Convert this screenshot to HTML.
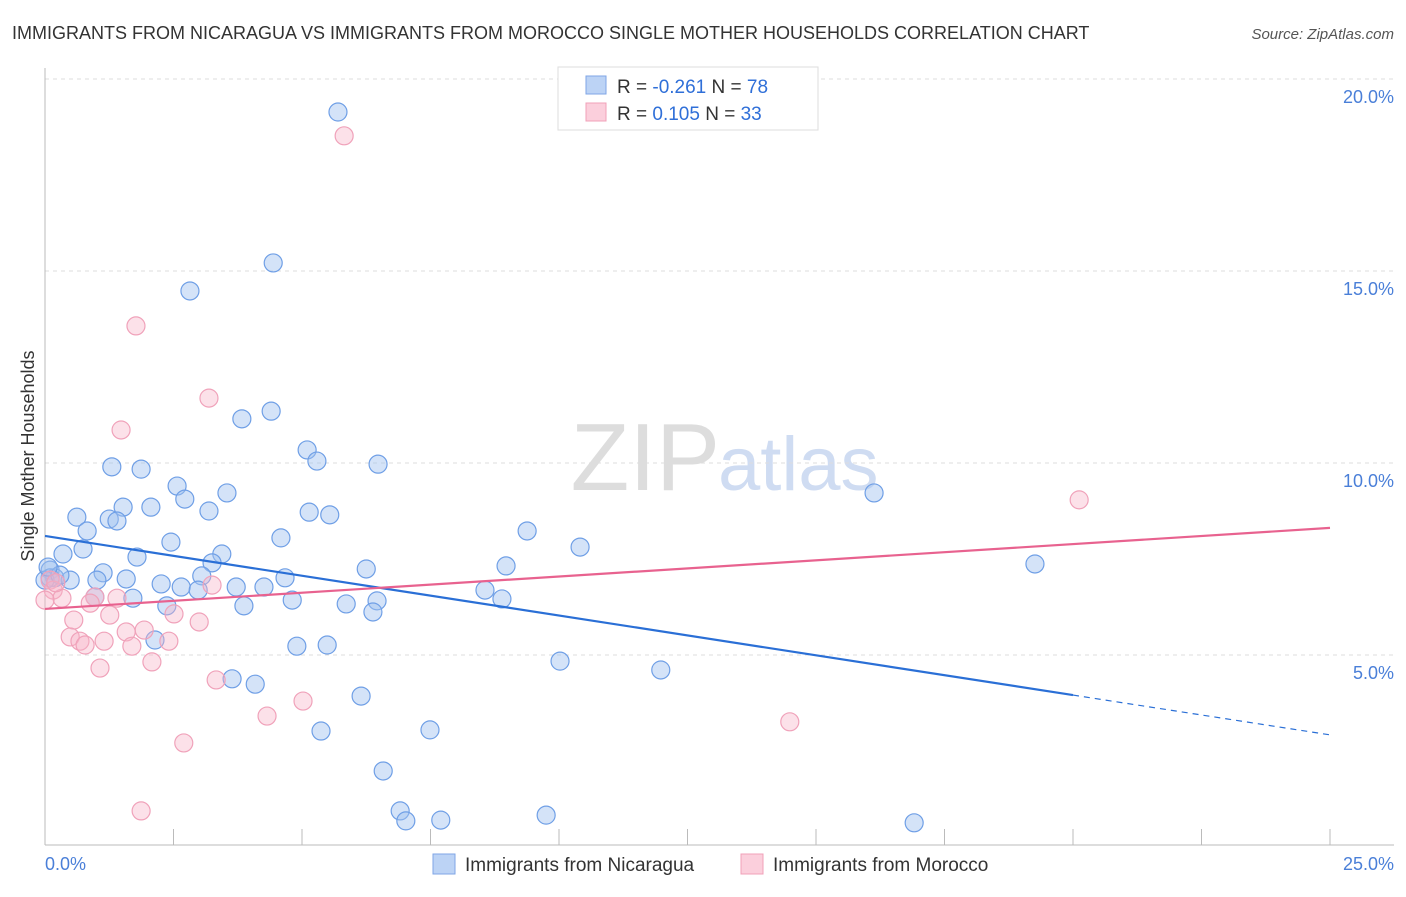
<!DOCTYPE html>
<html><head><meta charset="utf-8"><style>
body{margin:0;background:#fff;font-family:"Liberation Sans",sans-serif}
svg text{font-family:"Liberation Sans",sans-serif}
</style></head><body>
<svg id="c" width="1406" height="892">
<text x="12" y="39" font-size="18" fill="#333">IMMIGRANTS FROM NICARAGUA VS IMMIGRANTS FROM MOROCCO SINGLE MOTHER HOUSEHOLDS CORRELATION CHART</text>
<text x="1394" y="39" font-size="15" fill="#555" text-anchor="end" font-style="italic">Source: ZipAtlas.com</text>
<text x="720" y="490" font-size="96" fill="#ddd" text-anchor="end" font-family="Liberation Serif">ZIP</text>
<text x="718" y="490" font-size="76" fill="#cfdcf2">atlas</text>
<g id="grid"></g>
<g id="pts"></g>
<g id="trend"></g>
<text transform="translate(34,456) rotate(-90)" font-size="18" fill="#333" text-anchor="middle">Single Mother Households</text>
<text x="45" y="870" font-size="18" fill="#4a7fd8">0.0%</text>
<text x="1394" y="870" font-size="18" fill="#4a7fd8" text-anchor="end">25.0%</text>
<g>
<rect x="558" y="67" width="260" height="63" fill="#fff" stroke="#ddd"/>
<rect x="586" y="76" width="20" height="18" fill="#bcd3f5" stroke="#7fa6e6"/>
<rect x="586" y="103" width="20" height="18" fill="#fbcfdc" stroke="#f0a0b8"/>
<text x="617" y="93" font-size="19" fill="#333">R = <tspan fill="#2f6fd8">-0.261</tspan>   N = <tspan fill="#2f6fd8">78</tspan></text>
<text x="617" y="120" font-size="19" fill="#333">R =  <tspan fill="#2f6fd8"> 0.105</tspan>   N = <tspan fill="#2f6fd8">33</tspan></text>
</g>
<g>
<rect x="433" y="854" width="22" height="20" fill="#bcd3f5" stroke="#7fa6e6"/>
<text x="465" y="871" font-size="19" fill="#333">Immigrants from Nicaragua</text>
<rect x="741" y="854" width="22" height="20" fill="#fbcfdc" stroke="#f0a0b8"/>
<text x="773" y="871" font-size="19" fill="#333">Immigrants from Morocco</text>
</g>
</svg>
<script>
const yTicks=[5,10,15,20];
const xTicks=[0,2.5,5,7.5,10,12.5,15,17.5,20,22.5,25];
const blueX=[5.70,4.44,2.82,3.83,4.40,5.10,5.29,6.48,1.30,1.87,2.57,2.72,3.54,2.06,1.52,0.62,1.25,1.40,3.19,5.14,5.54,0.82,4.59,9.38,10.41,2.45,0.74,0.35,1.79,3.44,3.25,8.97,6.25,19.26,16.13,0.10,0.19,0.49,1.13,1.58,1.01,3.05,2.26,2.65,2.98,3.72,4.26,4.67,8.56,1.71,0.97,2.37,3.87,4.81,5.86,6.46,6.38,8.89,2.14,4.90,5.49,10.02,11.98,3.64,4.09,6.15,5.37,7.49,6.58,6.91,7.02,7.70,9.75,16.91,0.10,0.0,0.29,0.06];
const blueY=[19.14,15.21,14.48,11.15,11.35,10.34,10.05,9.97,9.90,9.84,9.40,9.06,9.22,8.85,8.85,8.59,8.54,8.49,8.75,8.72,8.65,8.23,8.05,8.23,7.81,7.94,7.76,7.63,7.55,7.63,7.40,7.32,7.24,7.37,9.22,7.21,7.01,6.95,7.14,6.98,6.95,7.06,6.85,6.77,6.69,6.77,6.77,7.01,6.69,6.48,6.51,6.28,6.28,6.43,6.33,6.41,6.12,6.46,5.39,5.23,5.26,4.84,4.61,4.38,4.24,3.93,3.02,3.05,1.98,0.94,0.68,0.70,0.83,0.63,7.01,6.95,7.08,7.29];
const pinkX=[5.82,1.77,3.19,1.48,20.12,0.10,0.16,0.33,0,0.21,0.97,0.88,1.40,3.25,1.26,0.56,2.51,3.00,0.49,0.68,0.78,1.15,1.58,1.93,1.69,2.41,2.08,1.07,3.33,5.02,4.32,14.49,2.70,1.87];
const pinkY=[18.52,13.57,11.69,10.86,9.04,6.95,6.69,6.48,6.43,6.88,6.51,6.35,6.48,6.82,6.04,5.91,6.07,5.86,5.47,5.36,5.26,5.36,5.60,5.65,5.23,5.36,4.82,4.66,4.35,3.80,3.41,3.26,2.71,0.94];
const blueTrend=[8.10,2.92];
const pinkTrend=[6.20,8.31];
const blueSolidEnd=20;
const sx=v=>45+v*51.4, sy=v=>847-v*38.4;
const NS="http://www.w3.org/2000/svg";
function mk(t,a,p){const e=document.createElementNS(NS,t);for(const k in a)e.setAttribute(k,a[k]);p.appendChild(e);return e;}
const grid=document.getElementById('grid');
mk('line',{x1:45,x2:1394,y1:79,y2:79,stroke:'#ddd','stroke-dasharray':'4,4'},grid);
yTicks.forEach(t=>{
 const l=mk('line',{x1:45,x2:1394,y1:sy(t),y2:sy(t),stroke:'#ddd','stroke-dasharray':'4,4'},grid);
 
 
 const tx=mk('text',{x:1394,y:sy(t)+24,'font-size':18,fill:'#4a7fd8','text-anchor':'end'},grid);
 tx.textContent=t.toFixed(1)+'%';
 
 
});
mk('line',{x1:45,x2:45,y1:68,y2:845,stroke:'#bbb'},grid);
mk('line',{x1:45,x2:1394,y1:845,y2:845,stroke:'#bbb'},grid);
xTicks.forEach(t=>{
 const l=mk('line',{x1:sx(t),x2:sx(t),y1:829,y2:845,stroke:'#bbb'},grid);
 
 
});
const pts=document.getElementById('pts');
blueX.forEach((x,i)=>{
 const c=mk('circle',{cx:sx(x),cy:sy(blueY[i]),r:9,fill:'rgba(160,192,240,0.45)',stroke:'#6f9fe6','stroke-width':1.2},pts);
 
 
});
pinkX.forEach((x,i)=>{
 const c=mk('circle',{cx:sx(x),cy:sy(pinkY[i]),r:9,fill:'rgba(248,180,200,0.4)',stroke:'#f0a2ba','stroke-width':1.2},pts);
 
 
});
const tr=document.getElementById('trend');
const bAt=x=>blueTrend[0]+(blueTrend[1]-blueTrend[0])*x/25;
let l1=mk('line',{x1:sx(0),y1:sy(bAt(0)),x2:sx(blueSolidEnd),y2:sy(bAt(blueSolidEnd)),stroke:'#2a6fd6','stroke-width':2.2},tr);


let l2=mk('line',{x1:sx(blueSolidEnd),y1:sy(bAt(blueSolidEnd)),x2:sx(25),y2:sy(bAt(25)),stroke:'#2a6fd6','stroke-width':1.2,'stroke-dasharray':'6,5'},tr);


let l3=mk('line',{x1:sx(0),y1:sy(pinkTrend[0]),x2:sx(25),y2:sy(pinkTrend[1]),stroke:'#e8628f','stroke-width':2.2},tr);


</script>
</body></html>
